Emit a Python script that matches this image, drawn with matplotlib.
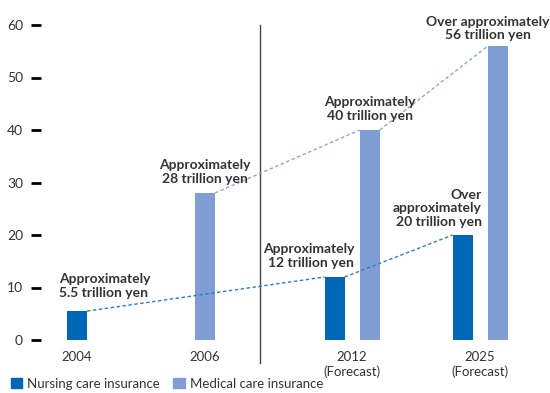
import numpy as np
import matplotlib.pyplot as plt
from matplotlib.patches import Patch

plt.rcParams['font.family'] = ['Lato', 'DejaVu Sans']

years = ["2004", "2006", "2012\n(Forecast)", "2025\n(Forecast)"]
nursing = [5.5, np.nan, 12, 20]
medical = [np.nan, 28, 40, 56]

notes = [
    ("Approximately\n5.5 trillion yen", -0.14, 7.9, "left"),
    ("Approximately\n28 trillion yen", 1.0, 29.6, "center"),
    ("Approximately\n12 trillion yen", 2.165, 13.6, "right"),
    ("Approximately\n40 trillion yen", 2.29, 41.6, "center"),
    ("Over\napproximately\n20 trillion yen", 3.16, 21.4, "right"),
    ("Over approximately\n56 trillion yen", 3.21, 57.0, "center"),
]

NURSE_C = "#0068b7"
MED_C = "#7f9fd4"
TEXT_C = "#333333"

pos = np.array([0.0, 1.0, 2.15, 3.15])
width = 0.156
off = 0.137

fig = plt.figure(figsize=(5.5, 3.93), dpi=100)
ax = fig.add_axes([41 / 550, 53 / 393, 509 / 550, 315 / 393])


def centers(vals, other, sign):
    # single bar in a group sits on the tick, paired bars split around it
    c = []
    for p, v, o in zip(pos, vals, other):
        c.append(p if np.isnan(o) else p + sign * off)
    return np.array(c)


xn = centers(nursing, medical, -1)
xm = centers(medical, nursing, 1)

ax.bar(xn, nursing, width=width, color=NURSE_C, zorder=2)
ax.bar(xm, medical, width=width, color=MED_C, zorder=2)


def trend(xs, vals, color):
    pts = [(x, v) for x, v in zip(xs, vals) if not np.isnan(v)]
    for (x0, v0), (x1, v1) in zip(pts[:-1], pts[1:]):
        ax.plot([x0 + width / 2, x1 - width / 2], [v0, v1], color=color,
                lw=1, dashes=(2.5, 1.8), zorder=3)


trend(xn, nursing, "#2b7fc6")
trend(xm, medical, "#8aa7db")

for txt, x, y, ha in notes:
    ax.text(x, y, txt, ha=ha, va="bottom", fontsize=10, fontweight="bold",
            color=TEXT_C, linespacing=1.12, clip_on=False, zorder=4)

# separator between actual and forecast years
ax.plot([1.426, 1.426], [60, -4.4], color="#444444", lw=1, clip_on=False)

ax.set_xlim(-0.281, 3.695)
ax.set_ylim(0, 60)
ax.set_yticks(range(0, 61, 10))
ax.set_xticks(pos, years)
for s in ax.spines.values():
    s.set_visible(False)
ax.tick_params(axis="y", length=7, width=2, color="black", pad=6,
               labelsize=10, labelcolor=TEXT_C)
ax.tick_params(axis="x", length=0, pad=8, labelsize=9.5, labelcolor=TEXT_C)

handles = [Patch(color=NURSE_C, label="Nursing care insurance"),
           Patch(color=MED_C, label="Medical care insurance")]
fig.legend(handles=handles, loc="lower left", bbox_to_anchor=(0.008, -0.008),
           ncol=2, frameon=False, fontsize=9.5, handlelength=0.85,
           handleheight=0.85, handletextpad=0.4, columnspacing=1.0,
           borderpad=0, labelcolor=TEXT_C)

fig.savefig("out.png", dpi=100)
